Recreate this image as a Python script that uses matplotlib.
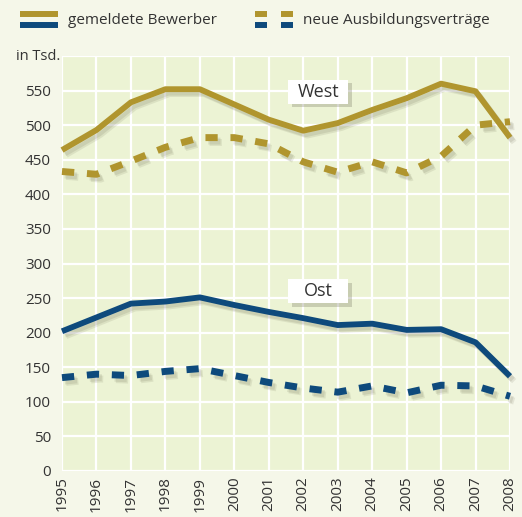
import matplotlib
matplotlib.use("Agg")
import matplotlib.pyplot as plt
import matplotlib.patheffects as pe
from matplotlib.lines import Line2D
from matplotlib.patches import Rectangle

years = list(range(1995, 2009))
west_bewerber = [464, 493, 533, 552, 552, 530, 508, 492, 503, 522, 539, 560, 549, 482]
west_vertraege = [433, 429, 448, 468, 482, 482, 473, 447, 432, 447, 431, 455, 500, 505]
ost_bewerber = [202, 222, 242, 245, 251, 240, 230, 221, 211, 213, 204, 205, 186, 137]
ost_vertraege = [135, 140, 138, 144, 148, 138, 128, 120, 114, 123, 113, 124, 123, 108]
yticks = list(range(0, 551, 50))

plt.rcParams['font.family'] = ['Open Sans', 'DejaVu Sans']
plt.rcParams['lines.scale_dashes'] = False

GOLD = '#b0952e'
BLUE = '#0e4a7c'
TXT = '#333333'

fig = plt.figure(figsize=(5.22, 5.17), dpi=100, facecolor='#f5f7e9')
ax = fig.add_axes([62/522, 1-471/517, (510-62)/522, (471-56)/517])
ax.set_facecolor('#ecf3d4')
ax.set_xlim(1995, 2008)
ax.set_ylim(0, 600)
for y in range(0, 601, 50):
    ax.axhline(y, color='white', lw=1.6, zorder=1)
for x in years:
    ax.axvline(x, color='white', lw=1.6, zorder=1)
for s in ax.spines.values():
    s.set_visible(False)

def shadow():
    return [pe.SimpleLineShadow(offset=(3, -3.5), shadow_color='#6b6b50', alpha=0.13),
            pe.SimpleLineShadow(offset=(2, -2.5), shadow_color='#6b6b50', alpha=0.15),
            pe.Normal()]

dash = (0, (8.8, 9.2))
ax.plot(years, west_bewerber, color=GOLD, lw=4.2, solid_capstyle='butt', path_effects=shadow(), zorder=3, clip_on=False)
ax.plot(years, west_vertraege, color=GOLD, lw=5.0, linestyle=dash, dash_capstyle='butt', path_effects=shadow(), zorder=3, clip_on=False)
ax.plot(years, ost_bewerber, color=BLUE, lw=4.2, solid_capstyle='butt', path_effects=shadow(), zorder=3, clip_on=False)
ax.plot(years, ost_vertraege, color=BLUE, lw=5.0, linestyle=dash, dash_capstyle='butt', path_effects=shadow(), zorder=3, clip_on=False)

ax.set_yticks(yticks)
ax.set_yticklabels([str(v) for v in yticks], fontsize=11, color=TXT)
ax.set_xticks(years)
ax.set_xticklabels([str(v) for v in years], fontsize=11, color=TXT, rotation=90)
ax.tick_params(length=0, pad=8)
ax.tick_params(axis='x', pad=4)

# label boxes (60 x 23 px)
px_x = (510 - 62) / 13.0
px_y = (471 - 56) / 600.0
bw = 60 / px_x
bh = 24 / px_y
for label, xv, yv in [('West', 2002.43, 548.5), ('Ost', 2002.44, 260)]:
    r = Rectangle((xv - bw/2, yv - bh/2), bw, bh, fc='white', ec='none', zorder=5,
                  path_effects=[pe.SimplePatchShadow(offset=(2.5, -2.5), shadow_rgbFace='#777760', alpha=0.3), pe.Normal()])
    ax.add_patch(r)
    ax.text(xv, yv, label, fontsize=13, color=TXT, ha='center', va='center', zorder=6)

fig.text(60/522, 1-57/517, 'in Tsd.', fontsize=10.5, color=TXT, ha='right', va='center')

# legend
def fy(py):
    return 1 - py/517
def fx(px):
    return px/522
fig.add_artist(Line2D([fx(20), fx(58)], [fy(14), fy(14)], color=GOLD, lw=4.3, solid_capstyle='butt'))
fig.add_artist(Line2D([fx(20), fx(58)], [fy(24.5), fy(24.5)], color=BLUE, lw=4.3, solid_capstyle='butt'))
fig.text(fx(68), fy(21), 'gemeldete Bewerber', fontsize=11, color=TXT, va='center')
for x0 in (255, 281):
    fig.add_artist(Line2D([fx(x0), fx(x0+12)], [fy(14), fy(14)], color=GOLD, lw=4.3, solid_capstyle='butt'))
    fig.add_artist(Line2D([fx(x0), fx(x0+12)], [fy(24.5), fy(24.5)], color=BLUE, lw=4.3, solid_capstyle='butt'))
fig.text(fx(303), fy(21), 'neue Ausbildungsverträge', fontsize=11, color=TXT, va='center')

fig.savefig('out.png', dpi=100, facecolor=fig.get_facecolor())
